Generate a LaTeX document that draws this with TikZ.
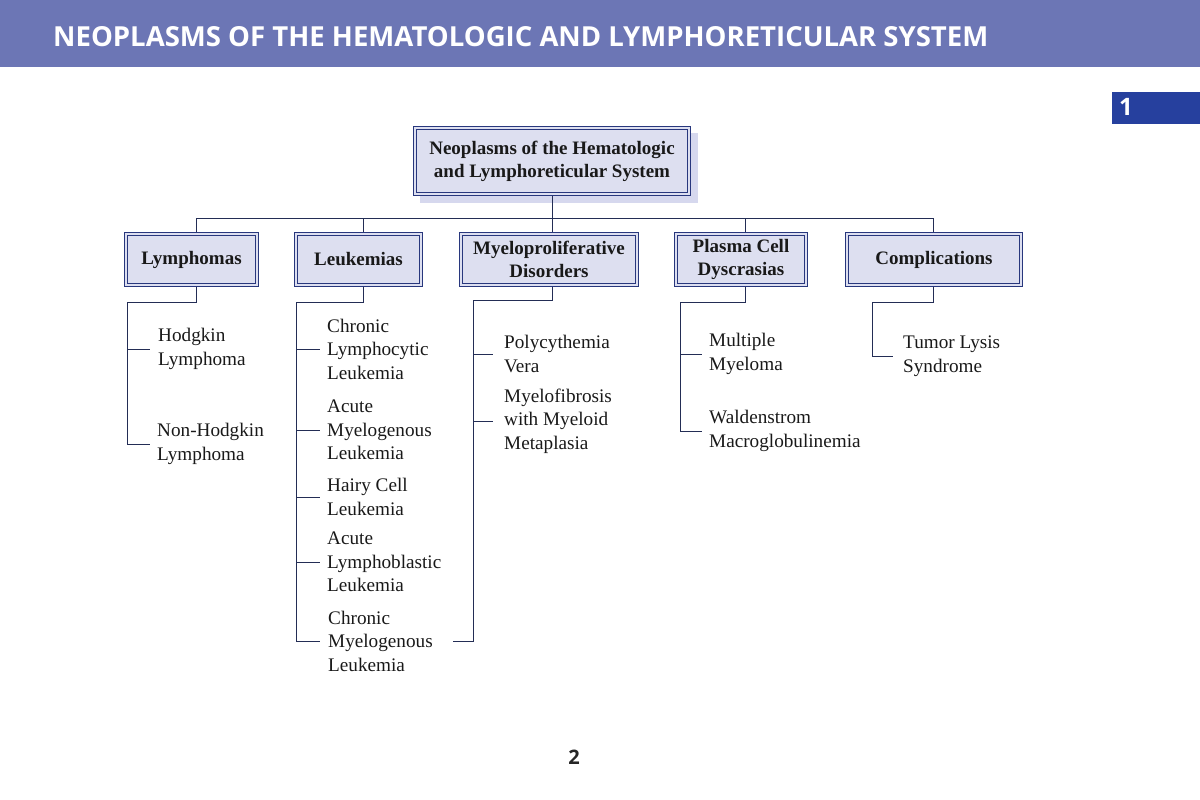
\documentclass[tikz,border=0pt]{standalone}
\usepackage{fontspec}
\setmainfont{Liberation Serif}
\newfontfamily\hdrfont{Open Sans}
\definecolor{hdr}{RGB}{108,118,181}
\definecolor{tabblue}{RGB}{38,64,158}
\definecolor{boxfill}{RGB}{221,223,240}
\definecolor{boxline}{RGB}{40,55,125}
\definecolor{shadowc}{RGB}{214,216,238}
\definecolor{conn}{RGB}{35,45,85}
\newcommand\innerframe[1]{\draw[boxline, line width=0.9pt] ([shift={(3.2pt,-3.2pt)}]#1.north west) rectangle ([shift={(-3.2pt,3.2pt)}]#1.south east);}
\begin{document}
\begin{tikzpicture}[x=1pt,y=-1pt,
  catbox/.style={draw=boxline, line width=0.9pt,
    fill=boxfill, inner sep=0pt, align=center, text=black!90,
    font=\bfseries\fontsize{19}{23}\selectfont},
  leaf/.style={anchor=west, align=left, inner ysep=0pt, text=black!90,
    font=\fontsize{19.2}{23.5}\selectfont},
  conn/.style={draw=conn, line width=0.9pt}]
\useasboundingbox (0,0) rectangle (1200,800);
% header
\fill[hdr] (0,0) rectangle (1200,67);
\node[anchor=base west, inner sep=0pt, text=white] (title) at (53,47)
  {\resizebox{935pt}{20pt}{\hdrfont\bfseries NEOPLASMS OF THE HEMATOLOGIC AND LYMPHORETICULAR SYSTEM}};
\fill[tabblue] (1112,92) rectangle (1200,124);
\node[text=white, inner sep=0pt, font=\hdrfont\bfseries\fontsize{24}{28}\selectfont] (tab) at (1126,107) {1};
% root
\fill[shadowc] (420,133) rectangle (698,203);
\node[catbox, minimum width=277pt, minimum height=69pt] (root) at (552,161)
  {Neoplasms of the Hematologic\\and Lymphoreticular System};
\innerframe{root}
% level 1
\node[catbox, minimum width=134pt, minimum height=54pt] (lym) at (191.5,259.5) {\raisebox{-2pt}{Lymphomas}};
\node[catbox, minimum width=128pt, minimum height=54pt] (leu) at (358.5,259.5) {\raisebox{-2pt}{Leukemias}};
\node[catbox, minimum width=179pt, minimum height=54pt] (mye) at (549,259.5) {Myeloproliferative\\Disorders};
\node[catbox, minimum width=133pt, minimum height=54pt] (pla) at (741,259.5) {Plasma Cell\\Dyscrasias};
\node[catbox, minimum width=177pt, minimum height=54pt] (com) at (934,259.5) {Complications};
\innerframe{lym}
\innerframe{leu}
\innerframe{mye}
\innerframe{pla}
\innerframe{com}
% bus
\coordinate (b1) at (196,218);
\coordinate (b2) at (363,218);
\coordinate (b3) at (552,218);
\coordinate (b4) at (745,218);
\coordinate (b5) at (933,218);
\draw[conn] (root.south) -- (b3);
\draw[conn] (b1) -- (b5);
\draw[conn] (b1) -- (b1 |- lym.north);
\draw[conn] (b2) -- (b2 |- leu.north);
\draw[conn] (b3) -- (b3 |- mye.north);
\draw[conn] (b4) -- (b4 |- pla.north);
\draw[conn] (b5) -- (b5 |- com.north);
% leaves
\node[leaf, inner xsep=8pt] (hod) at (150,349) {Hodgkin\\Lymphoma};
\node[leaf, inner xsep=7pt] (nhl) at (150,444) {Non-Hodgkin\\Lymphoma};
\node[leaf, inner xsep=7pt] (cll) at (320,349) {Chronic\\Lymphocytic\\Leukemia};
\node[leaf, inner xsep=7pt] (aml) at (320,430) {Acute\\Myelogenous\\Leukemia};
\node[leaf, inner xsep=7pt] (hcl) at (320,497) {Hairy Cell\\Leukemia};
\node[leaf, inner xsep=7pt] (all) at (320,562) {Acute\\Lymphoblastic\\Leukemia};
\node[leaf, inner xsep=8pt] (cml) at (320,641) {Chronic\\Myelogenous\\Leukemia};
\node[leaf, inner xsep=11pt] (pv) at (493,354) {Polycythemia\\Vera};
\node[leaf, inner xsep=11pt] (mf) at (493,421) {Myelofibrosis\\with Myeloid\\Metaplasia};
\node[leaf, inner xsep=7pt] (mm) at (702,354) {Multiple\\Myeloma};
\node[leaf, inner xsep=7pt] (wm) at (702,431) {Waldenstrom\\Macroglobulinemia};
\node[leaf, inner xsep=10pt] (tls) at (893,356) {Tumor Lysis\\Syndrome};
% lymphomas branch
\coordinate (lv) at (127,302);
\draw[conn] (b1 |- lym.south) -- (196,302) -- (lv) -- (lv |- nhl.west) -- (nhl.west);
\draw[conn] (lv |- hod.west) -- (hod.west);
% leukemias branch
\coordinate (kv) at (296,302);
\draw[conn] (b2 |- leu.south) -- (363,302) -- (kv) -- (kv |- cml.west) -- (cml.west);
\draw[conn] (kv |- cll.west) -- (cll.west);
\draw[conn] (kv |- aml.west) -- (aml.west);
\draw[conn] (kv |- hcl.west) -- (hcl.west);
\draw[conn] (kv |- all.west) -- (all.west);
% myeloproliferative branch
\coordinate (mv) at (473,300);
\coordinate (cmlr) at (453,641);
\draw[conn] (b3 |- mye.south) -- (552,300) -- (mv) -- (mv |- cmlr) -- (cmlr);
\draw[conn] (mv |- pv.west) -- (pv.west);
\draw[conn] (mv |- mf.west) -- (mf.west);
% plasma cell branch
\coordinate (pv2) at (680,302);
\draw[conn] (b4 |- pla.south) -- (745,302) -- (pv2) -- (pv2 |- wm.west) -- (wm.west);
\draw[conn] (pv2 |- mm.west) -- (mm.west);
% complications branch
\coordinate (cv) at (872,302);
\draw[conn] (b5 |- com.south) -- (933,302) -- (cv) -- (cv |- tls.west) -- (tls.west);
% page number
\node[inner sep=0pt, text=black!85, font=\hdrfont\bfseries\fontsize{20}{24}\selectfont] (pg) at (574,757) {2};
\end{tikzpicture}
\end{document}
